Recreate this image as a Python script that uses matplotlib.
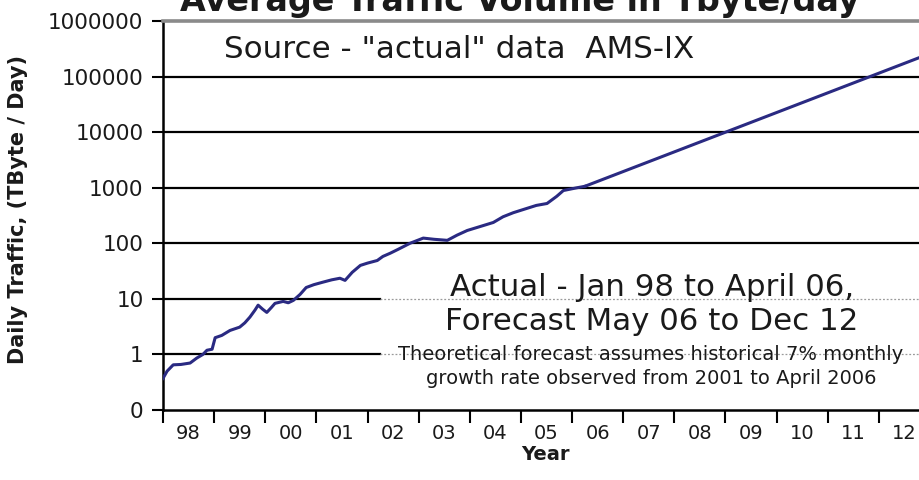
import matplotlib
matplotlib.use('Agg')

import matplotlib.pyplot as plt
from matplotlib.ticker import FixedLocator, NullFormatter

plt.rcParams['font.family'] = ['DejaVu Sans']

# ── Data ───────────────────────────────────────────────────────────────────
actual_years = [
    1998.00, 1998.08, 1998.20, 1998.35, 1998.53, 1998.66, 1998.78, 1998.86,
    1998.96, 1999.02, 1999.15, 1999.31, 1999.50, 1999.60, 1999.70, 1999.80,
    1999.86, 1999.95, 2000.03, 2000.12, 2000.19, 2000.35, 2000.45, 2000.55,
    2000.68, 2000.80, 2000.95, 2001.13, 2001.30, 2001.46, 2001.56, 2001.70,
    2001.86, 2002.00, 2002.19, 2002.30, 2002.44, 2002.60, 2002.83, 2003.00,
    2003.09, 2003.30, 2003.56, 2003.75, 2003.95, 2004.20, 2004.46, 2004.65,
    2004.85, 2005.10, 2005.30, 2005.51, 2005.70, 2005.83, 2006.10, 2006.25,
]
actual_tb = [
    0.37, 0.50, 0.65, 0.66, 0.70, 0.86, 1.0, 1.19,
    1.24, 2.0, 2.2, 2.7, 3.1, 3.7, 4.7, 6.3,
    7.7, 6.5, 5.7, 7.0, 8.3, 9.0, 8.5, 9.4,
    12, 16, 18, 20, 22, 23.5, 21.5, 30,
    40, 44, 49, 58, 66, 78, 100, 115,
    124, 118, 113, 140, 170, 200, 237, 300,
    355, 420, 480, 520, 700, 890, 1000, 1060,
]
forecast_years = [2006.25, 2013.0]
forecast_tb = [1060, 260000]

year_labels = ['98', '99', '00', '01', '02', '03', '04', '05',
               '06', '07', '08', '09', '10', '11', '12']
y_levels = [0.1, 1, 10, 100, 1000, 10000, 100000, 1000000]
y_labels = ['0', '1', '10', '100', '1000', '10000', '100000', '1000000']

LINE = '#2a2a82'
TXT = '#1a1a1a'


def main() -> None:
    fig = plt.figure(figsize=(9.2, 4.8), dpi=100)
    ax = fig.add_axes([163 / 920, 1 - 410 / 480, 767 / 920, 389 / 480])
    ax.set_yscale('log')
    ax.set_xlim(1998, 2013)
    ax.set_ylim(0.1, 1000000)

    # horizontal gridlines; 1 and 10 turn dotted under the note box
    for lvl in y_levels[3:-1]:
        ax.axhline(lvl, color='black', lw=1.6, zorder=1)
    for lvl in y_levels[1:3]:
        ax.axhline(lvl, xmax=0.283, color='black', lw=1.6, zorder=1)
        ax.axhline(lvl, xmin=0.283, color='#9a9a9a', lw=0.9, ls=(0, (1.5, 1.5)), zorder=1)

    ax.plot(actual_years, actual_tb, color=LINE, lw=2.2, zorder=3)
    ax.plot(forecast_years, forecast_tb, color=LINE, lw=2.2, zorder=3)

    ax.spines['right'].set_visible(False)
    ax.spines['top'].set_color('#8a8a8a')
    ax.spines['top'].set_linewidth(2.6)
    ax.spines['left'].set_linewidth(1.8)
    ax.spines['bottom'].set_linewidth(1.8)

    # x ticks at year boundaries, labels centred in each year
    years = list(range(1998, 2013))
    ax.xaxis.set_major_locator(FixedLocator(years))
    ax.xaxis.set_major_formatter(NullFormatter())
    ax.xaxis.set_minor_locator(FixedLocator([y + 0.5 for y in years]))
    ax.set_xticklabels(year_labels, minor=True)
    ax.tick_params(axis='x', which='major', direction='out', length=9, width=1.5)
    ax.tick_params(axis='x', which='minor', length=0, pad=10, labelsize=14,
                   labelcolor=TXT)

    ax.yaxis.set_major_locator(FixedLocator(y_levels))
    ax.set_yticklabels(y_labels)
    ax.yaxis.set_minor_locator(FixedLocator([]))
    ax.tick_params(axis='y', direction='out', length=8, width=1.5, pad=6,
                   labelsize=15.5, labelcolor=TXT)

    fig.text(545 / 920, 1 - 455 / 480, 'Year', ha='center', va='center',
             fontsize=14, fontweight='bold', color=TXT)
    fig.text(18 / 920, 1 - 210 / 480, 'Daily Traffic, (TByte / Day)', rotation=90,
             ha='center', va='center', fontsize=15, fontweight='bold', color=TXT)

    # title (cut off at top in the reference)
    fig.text(520 / 920, 1 - 11 / 480, 'Average Traffic Volume in Tbyte/day',
             ha='center', va='baseline', fontsize=24, fontweight='bold', color=TXT)

    # annotations
    fig.text(459 / 920, 1 - 50 / 480, 'Source - "actual" data  AMS-IX',
             ha='center', va='center', fontsize=22.3, color=TXT)
    fig.text(652 / 920, 1 - 288 / 480, 'Actual - Jan 98 to April 06,',
             ha='center', va='center', fontsize=22.2, color=TXT)
    fig.text(652 / 920, 1 - 322 / 480, 'Forecast May 06 to Dec 12',
             ha='center', va='center', fontsize=22.2, color=TXT)
    fig.text(651 / 920, 1 - 354 / 480,
             'Theoretical forecast assumes historical 7% monthly',
             ha='center', va='center', fontsize=14, color=TXT)
    fig.text(651 / 920, 1 - 379 / 480,
             'growth rate observed from 2001 to April 2006',
             ha='center', va='center', fontsize=14, color=TXT)

    fig.savefig('out.png', dpi=100, facecolor='white')
    plt.close(fig)


if __name__ == '__main__':
    main()
